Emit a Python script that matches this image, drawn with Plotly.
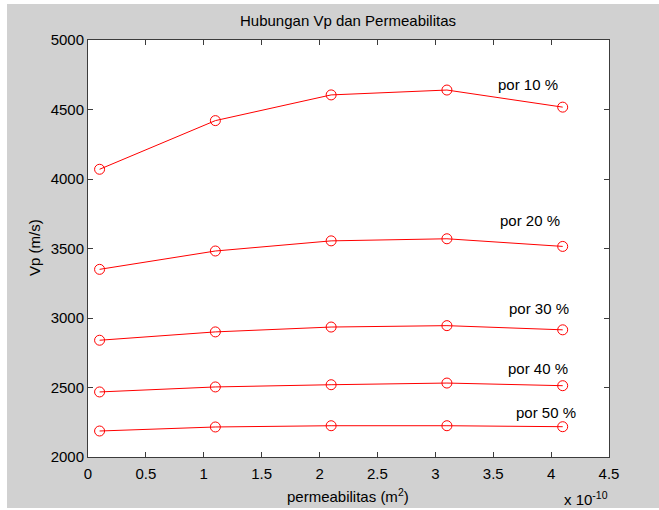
import plotly.graph_objects as go

# Permeability (x 1e-10 m^2) at which Vp was evaluated
permeabilitas = [0.1, 1.1, 2.1, 3.1, 4.1]

# Vp (m/s) for each porosity
vp_por10 = [4070, 4420, 4605, 4640, 4517]
vp_por20 = [3350, 3482, 3555, 3570, 3515]
vp_por30 = [2840, 2900, 2935, 2945, 2915]
vp_por40 = [2468, 2504, 2520, 2532, 2513]
vp_por50 = [2187, 2216, 2225, 2225, 2218]

series_names = ["por 10 %", "por 20 %", "por 30 %", "por 40 %", "por 50 %"]
series_values = [vp_por10, vp_por20, vp_por30, vp_por40, vp_por50]

# label anchor (left edge, vertical centre) for each curve, in data units
label_x = [3.52, 3.54, 3.62, 3.61, 3.68]
label_y = [4683, 3698, 3065, 2640, 2317]

FONT = "Liberation Sans, Arial, Helvetica, sans-serif"
W, H = 659, 510
L, R, T, B = 88, 50, 40, 53
PW, PH = W - L - R, H - T - B

def px_x(p):
    return (p - L) / PW

def px_y(p):
    return (H - B - p) / PH

fig = go.Figure()
for name, vals in zip(series_names, series_values):
    fig.add_trace(go.Scatter(
        x=permeabilitas, y=vals, name=name, mode="lines+markers",
        line=dict(color="#ff0000", width=1),
        marker=dict(symbol="circle-open", size=10, color="#ff0000",
                    line=dict(width=1, color="#ff0000")),
        showlegend=False,
    ))

annotations = []
for name, lx, ly in zip(series_names, label_x, label_y):
    annotations.append(dict(x=lx, y=ly, xref="x", yref="y", text=name,
                            showarrow=False, xanchor="left", yanchor="middle",
                            font=dict(family=FONT, size=15, color="#000000")))

annotations.append(dict(x=px_x(348), y=px_y(20), xref="paper", yref="paper",
                        text="Hubungan Vp dan Permeabilitas", showarrow=False,
                        xanchor="center", yanchor="middle",
                        font=dict(family=FONT, size=15, color="#000000")))
annotations.append(dict(x=px_x(348), y=px_y(495), xref="paper", yref="paper",
                        text="permeabilitas (m<sup>2</sup>)", showarrow=False,
                        xanchor="center", yanchor="middle",
                        font=dict(family=FONT, size=15, color="#000000")))
annotations.append(dict(x=px_x(34), y=px_y(248), xref="paper", yref="paper",
                        text="Vp (m/s)", showarrow=False, textangle=-90,
                        xanchor="center", yanchor="middle",
                        font=dict(family=FONT, size=15, color="#000000")))
annotations.append(dict(x=px_x(562), y=px_y(510), xref="paper", yref="paper",
                        text="x 10<sup>-10</sup>", showarrow=False,
                        xanchor="left", yanchor="bottom",
                        font=dict(family=FONT, size=15, color="#000000")))

# white strips framing the grey figure area
shapes = [
    dict(type="rect", xref="paper", yref="paper", layer="below",
         x0=px_x(0), x1=px_x(7), y0=px_y(H), y1=px_y(0),
         fillcolor="#ffffff", line=dict(width=0)),
    dict(type="rect", xref="paper", yref="paper", layer="below",
         x0=px_x(0), x1=px_x(W), y0=px_y(4), y1=px_y(0),
         fillcolor="#ffffff", line=dict(width=0)),
    dict(type="rect", xref="paper", yref="paper", layer="below",
         x0=px_x(0), x1=px_x(W), y0=px_y(H), y1=px_y(508),
         fillcolor="#ffffff", line=dict(width=0)),
]

axis_common = dict(
    showgrid=False, zeroline=False, showline=True, linecolor="#3c3c3c",
    linewidth=1, mirror="ticks", ticks="inside", ticklen=5,
    tickcolor="#3c3c3c", tickwidth=1,
    tickfont=dict(family=FONT, size=15, color="#000000"),
)

fig.update_layout(
    width=W, height=H,
    margin=dict(l=L, r=R, t=T, b=B, autoexpand=False),
    paper_bgcolor="#d1d1d1", plot_bgcolor="#ffffff",
    xaxis=dict(range=[0, 4.5], dtick=0.5, tick0=0, ticklabelstandoff=3,
               **axis_common),
    yaxis=dict(range=[2000, 5000], dtick=500, tick0=2000, **axis_common),
    annotations=annotations, shapes=shapes,
)

fig.write_html("out.html")
